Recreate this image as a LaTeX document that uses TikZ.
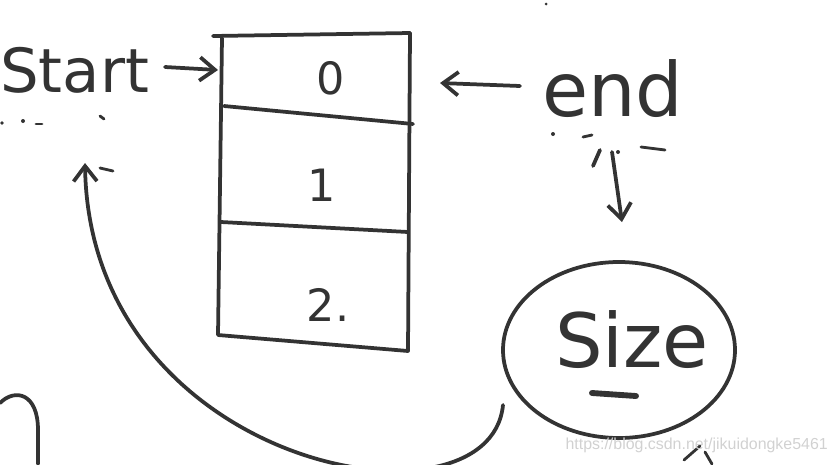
\documentclass[tikz,border=0pt]{standalone}
\usepackage{fontspec}
\setmainfont{DejaVu Sans}[Scale=1]
\newfontfamily\wmfont{Liberation Sans}
\usetikzlibrary{arrows.meta,shapes.geometric}
\definecolor{ink}{HTML}{333333}
\tikzset{
  pen/.style={draw=ink, line width=3.2pt, line cap=round, line join=round},
  hand/.style={text=ink, font=\fontsize{52}{52}\selectfont, inner sep=0pt},
  bighand/.style={text=ink, font=\fontsize{64}{64}\selectfont, inner sep=0pt},
  cellnum/.style={text=ink, font=\fontsize{38}{38}\selectfont, inner sep=0pt},
  barb/.style={-{Straight Barb[length=13pt,width=20pt,line width=3.2pt]}},
  dot/.style={pen, line width=2.4pt},
}
\begin{document}
\begin{tikzpicture}[x=0.03cm,y=-0.03cm]
\useasboundingbox (0,0) rectangle (835,464);
% array corners
\coordinate (tl) at (213,36);
\coordinate (tr) at (410,33);
\coordinate (ml1) at (224,106);
\coordinate (mr1) at (413,124);
\coordinate (ml2) at (221,222);
\coordinate (mr2) at (408,232);
\coordinate (bl) at (218,335);
\coordinate (br) at (408,351);
\coordinate (lt) at (222,38);
\coordinate (rt) at (410,33);
\draw[pen] (tl) -- (tr);
\draw[pen] (lt) -- (bl) -- (br) -- (rt);
\draw[pen] (ml1) -- (mr1);
\draw[pen] (ml2) -- (mr2);
% cell labels
\node[cellnum] (c0) at (331,78) {0};
\node[cellnum] (c1) at (322,185) {1};
\node[cellnum] (c2) at (328,305) {2.};
% start
\node[hand, anchor=base west] (start) at (0,92) {Start};
\coordinate (sA) at (165,67);
\coordinate (sB) at (218,70);
\draw[pen, barb] (sA) -- (sB);
% end
\node[bighand, anchor=base west] (endt) at (542,116) {end};
\coordinate (eA) at (520,86);
\coordinate (eB) at (440,83);
\draw[pen, barb] (eA) -- (eB);
% size
\node[ellipse, draw=ink, line width=3.2pt, minimum width=232*0.03cm, minimum height=176*0.03cm, inner sep=0pt] (size) at (619,350) {};
\node[bighand] (sizet) at (632,340) {Size};
\coordinate (u1) at (592,393);
\coordinate (u2) at (636,396);
\draw[pen, line width=5pt] (u1) -- (u2);
% end -> size
\coordinate (dA) at (612,152);
\coordinate (dB) at (622,222);
\draw[pen, barb] (dA) -- (dB);
\coordinate (dC) at (600,150);
\coordinate (dD) at (593,166);
\draw[pen] (dC) -- (dD);
% size -> back
\coordinate (cA) at (503,405);
\coordinate (cB) at (85,163);
\draw[pen, barb] (cA) .. controls (490,540) and (90,470) .. (cB);
\coordinate (k1) at (100,168);
\coordinate (k2) at (113,171);
\draw[dot] (k1) -- (k2);
% dots
\coordinate (p1) at (2,123);
\coordinate (p2) at (23,121);
\coordinate (p3) at (36,124);
\coordinate (p4) at (42,124);
\coordinate (p5) at (100,116);
\coordinate (p6) at (104,119);
\fill[ink] (p1) circle (1.8) (p2) circle (2);
\draw[dot] (p3) -- (p4);
\draw[dot] (p5) -- (p6);
\coordinate (q1) at (553,134);
\coordinate (q2) at (583,137);
\coordinate (q3) at (592,135);
\coordinate (q4) at (641,147);
\coordinate (q5) at (665,150);
\coordinate (q6) at (618,152);
\fill[ink] (q1) circle (2);
\draw[dot] (q2) -- (q3);
\draw[dot] (q4) -- (q5);
\fill[ink] (q6) circle (2);
\coordinate (top) at (546,4);
\fill[ink] (top) circle (1.5);
% partial shapes at bottom left and bottom right
\coordinate (bA) at (0,403);
\coordinate (bB) at (38,464);
\draw[pen] (bA) .. controls (15,388) and (38,393) .. (38,430) -- (bB);
\coordinate (xA) at (684,460);
\coordinate (xB) at (700,446);
\coordinate (xC) at (705,452);
\coordinate (xD) at (712,464);
\draw[pen, line width=2.4pt] (xA) -- (xB);
\draw[pen, line width=2.4pt] (xC) -- (xD);
% watermark
\node[text=black!18, font=\wmfont\fontsize{13.6}{14}\selectfont, anchor=east, inner sep=0pt] (wm) at (828,445) {https://blog.csdn.net/jikuidongke5461};
\end{tikzpicture}
\end{document}
